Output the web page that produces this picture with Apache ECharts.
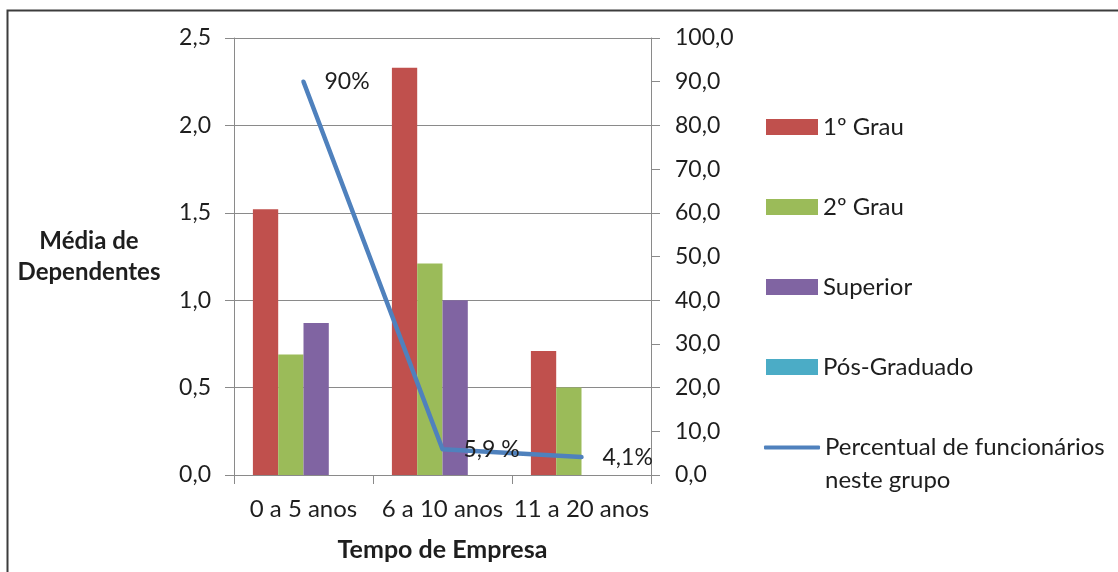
<!DOCTYPE html>
<html>
<head>
<meta charset="utf-8">
<script src="https://cdn.jsdelivr.net/npm/echarts@6/dist/echarts.min.js"></script>
<style>
  html, body { margin: 0; padding: 0; background: #ffffff; }
  #chart { width: 1118px; height: 572px; }
</style>
</head>
<body>
<div id="chart"></div>
<script>
// Average number of dependents by time at the company, per schooling level,
// plus the share of employees in each group (right axis).
const categories = ['0 a 5 anos', '6 a 10 anos', '11 a 20 anos'];
const primeiroGrau = [1.52, 2.33, 0.71];
const segundoGrau = [0.69, 1.21, 0.50];
const superior = [0.87, 1.00, 0];
const posGraduado = [0, 0, 0];
const percentual = [90, 5.9, 4.1];
const percentualLabels = ['90%', '5,9 %', '4,1%'];

const FONT = 'Lato';
const TEXT = '#1e1e1e';
const AXIS = '#8a8a8a';

const fmt = v => v.toFixed(1).replace('.', ',');

const barNames = ['1º Grau', '2º Grau', 'Superior', 'Pós-Graduado'];
const lineName = 'Percentual de funcionários neste grupo';

const chart = echarts.init(document.getElementById('chart'));

const barBase = {
  type: 'bar',
  yAxisIndex: 0,
  barWidth: 25.3,
  barGap: '0%',
  animation: false
};

chart.setOption({
  animation: false,
  textStyle: { fontFamily: FONT },
  graphic: [{
    type: 'rect',
    shape: { x: 7.5, y: 10.5, width: 1300, height: 800 },
    style: { fill: 'none', stroke: '#3c3c3c', lineWidth: 2 },
    silent: true
  }],
  grid: { left: 234, right: 467, top: 38, bottom: 97 },
  legend: [{
    orient: 'vertical',
    left: 766,
    top: 115,
    padding: 0,
    icon: 'rect',
    itemWidth: 52,
    itemHeight: 16,
    itemGap: 56,
    itemTextGap: 6,
    data: barNames,
    textStyle: { fontFamily: FONT, fontSize: 24, color: TEXT }
  }, {
    orient: 'vertical',
    left: 764,
    top: 398,
    padding: 0,
    icon: 'roundRect',
    itemWidth: 56,
    itemHeight: 4,
    itemTextGap: 4,
    data: [lineName],
    // leading empty line keeps the first text line level with the legend line
    formatter: () => '\nPercentual de funcionários\nneste grupo',
    textStyle: { fontFamily: FONT, fontSize: 24, color: TEXT, lineHeight: 33 }
  }],
  xAxis: {
    type: 'category',
    data: categories,
    name: 'Tempo de Empresa',
    nameLocation: 'middle',
    nameGap: 62,
    nameTextStyle: { fontFamily: FONT, fontSize: 25, fontWeight: 'bold', color: TEXT },
    axisLine: { lineStyle: { color: AXIS, width: 1 } },
    axisTick: { show: true, length: 9, alignWithLabel: false, lineStyle: { color: AXIS } },
    axisLabel: { interval: 0, hideOverlap: false, fontFamily: FONT, fontSize: 24, color: TEXT, margin: 22 },
    splitLine: { show: false }
  },
  yAxis: [{
    type: 'value',
    min: 0,
    max: 2.5,
    interval: 0.5,
    position: 'left',
    name: 'Média de\nDependentes',
    nameLocation: 'middle',
    nameRotate: 0,
    nameGap: 145,
    nameTextStyle: { fontFamily: FONT, fontSize: 24, fontWeight: 'bold', color: TEXT, align: 'center', lineHeight: 31 },
    axisLine: { show: true, lineStyle: { color: AXIS, width: 1 } },
    axisTick: { show: true, length: 9, lineStyle: { color: AXIS } },
    axisLabel: { fontFamily: FONT, fontSize: 23, color: TEXT, margin: 23, formatter: fmt },
    splitLine: { show: true, lineStyle: { color: AXIS, width: 1 } }
  }, {
    type: 'value',
    min: 0,
    max: 100,
    interval: 10,
    position: 'right',
    axisLine: { show: true, lineStyle: { color: AXIS, width: 1 } },
    axisTick: { show: true, length: 9, lineStyle: { color: AXIS } },
    axisLabel: { fontFamily: FONT, fontSize: 23, color: TEXT, margin: 24, formatter: fmt },
    splitLine: { show: false }
  }],
  series: [
    Object.assign({}, barBase, { name: barNames[0], data: primeiroGrau, itemStyle: { color: '#C0504D' } }),
    Object.assign({}, barBase, { name: barNames[1], data: segundoGrau, itemStyle: { color: '#9BBB59' } }),
    Object.assign({}, barBase, { name: barNames[2], data: superior, itemStyle: { color: '#8064A2' } }),
    Object.assign({}, barBase, { name: barNames[3], data: posGraduado, itemStyle: { color: '#4BACC6' } }),
    {
      name: lineName,
      type: 'line',
      yAxisIndex: 1,
      data: percentual,
      symbol: 'circle',
      symbolSize: 0,
      showSymbol: true,
      itemStyle: { color: '#4F81BD' },
      lineStyle: { color: '#4F81BD', width: 4.5, cap: 'round', join: 'round' },
      label: {
        show: true,
        position: 'right',
        distance: 21,
        fontFamily: FONT,
        fontSize: 23,
        color: TEXT,
        formatter: p => percentualLabels[p.dataIndex]
      },
      z: 5
    }
  ]
});
</script>
</body>
</html>
